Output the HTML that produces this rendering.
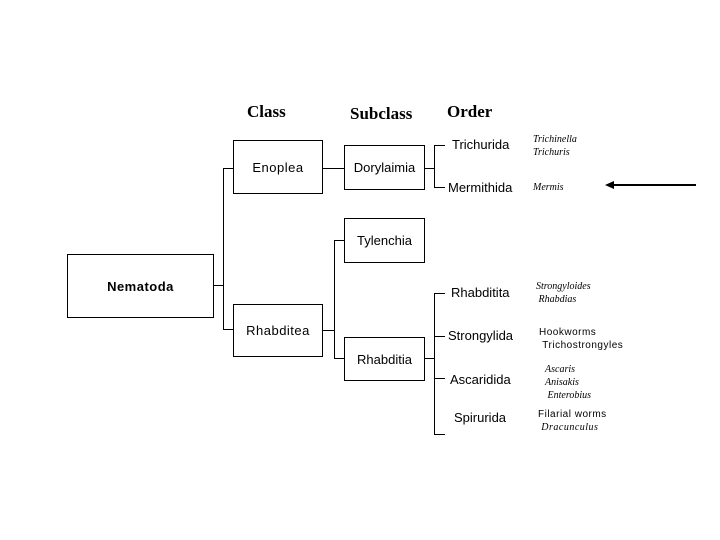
<!DOCTYPE html>
<html><head><style>
body{margin:0;width:720px;height:540px;background:#fff;position:relative;overflow:hidden;font-family:"Liberation Sans",Arial,sans-serif;}
.b{position:absolute;border:1px solid #000;box-sizing:border-box;display:flex;align-items:center;justify-content:center;font-size:13px;}
.h{position:absolute;font-family:"Liberation Serif",serif;font-weight:bold;font-size:17px;}
.l{position:absolute;background:#000;}
.o{position:absolute;font-size:13px;}
.s{position:absolute;font-family:"Liberation Serif",serif;font-style:italic;font-size:10px;line-height:13px;}
.n{position:absolute;font-size:10px;line-height:13px;letter-spacing:0.5px;}
</style></head><body>
<div class="h" style="left:247px;top:102px">Class</div>
<div class="h" style="left:350px;top:104px">Subclass</div>
<div class="h" style="left:447px;top:102px">Order</div>

<div class="b" style="left:67px;top:254px;width:147px;height:64px;font-weight:bold;letter-spacing:0.5px">Nematoda</div>
<div class="b" style="left:233px;top:140px;width:90px;height:54px;letter-spacing:0.5px">Enoplea</div>
<div class="b" style="left:233px;top:304px;width:90px;height:53px;letter-spacing:0.5px">Rhabditea</div>
<div class="b" style="left:344px;top:145px;width:81px;height:45px">Dorylaimia</div>
<div class="b" style="left:344px;top:218px;width:81px;height:45px">Tylenchia</div>
<div class="b" style="left:344px;top:337px;width:81px;height:44px">Rhabditia</div>

<div class="l" style="left:213px;top:285px;width:10px;height:1px"></div>
<div class="l" style="left:223px;top:168px;width:1px;height:162px"></div>
<div class="l" style="left:223px;top:168px;width:10px;height:1px"></div>
<div class="l" style="left:223px;top:329px;width:10px;height:1px"></div>
<div class="l" style="left:322px;top:168px;width:22px;height:1px"></div>
<div class="l" style="left:322px;top:330px;width:12px;height:1px"></div>
<div class="l" style="left:334px;top:240px;width:1px;height:119px"></div>
<div class="l" style="left:334px;top:240px;width:10px;height:1px"></div>
<div class="l" style="left:334px;top:358px;width:10px;height:1px"></div>
<div class="l" style="left:424px;top:168px;width:10px;height:1px"></div>
<div class="l" style="left:434px;top:145px;width:1px;height:43px"></div>
<div class="l" style="left:434px;top:145px;width:11px;height:1px"></div>
<div class="l" style="left:434px;top:187px;width:11px;height:1px"></div>
<div class="l" style="left:424px;top:358px;width:10px;height:1px"></div>
<div class="l" style="left:434px;top:293px;width:1px;height:142px"></div>
<div class="l" style="left:434px;top:293px;width:11px;height:1px"></div>
<div class="l" style="left:434px;top:336px;width:11px;height:1px"></div>
<div class="l" style="left:434px;top:378px;width:11px;height:1px"></div>
<div class="l" style="left:434px;top:434px;width:11px;height:1px"></div>

<div class="o" style="left:452px;top:137px">Trichurida</div>
<div class="o" style="left:448px;top:180px">Mermithida</div>
<div class="o" style="left:451px;top:285px">Rhabditita</div>
<div class="o" style="left:448px;top:328px">Strongylida</div>
<div class="o" style="left:450px;top:372px">Ascaridida</div>
<div class="o" style="left:454px;top:410px">Spirurida</div>

<div class="s" style="left:533px;top:133px">Trichinella<br>Trichuris</div>
<div class="s" style="left:533px;top:181px">Mermis</div>
<div class="s" style="left:536px;top:280px">Strongyloides<br>&nbsp;Rhabdias</div>
<div class="n" style="left:539px;top:326px">Hookworms<br>&nbsp;Trichostrongyles</div>
<div class="s" style="left:545px;top:363px">Ascaris<br>Anisakis<br>&nbsp;Enterobius</div>
<div class="n" style="left:538px;top:408px">Filarial worms<br>&nbsp;<i style="font-family:'Liberation Serif',serif">Dracunculus</i></div>

<svg style="position:absolute;left:0;top:0" width="720" height="540">
<line x1="612" y1="185" x2="696" y2="185" stroke="#000" stroke-width="2"/>
<polygon points="605,185 614,181 614,189" fill="#000"/>
</svg>
</body></html>
